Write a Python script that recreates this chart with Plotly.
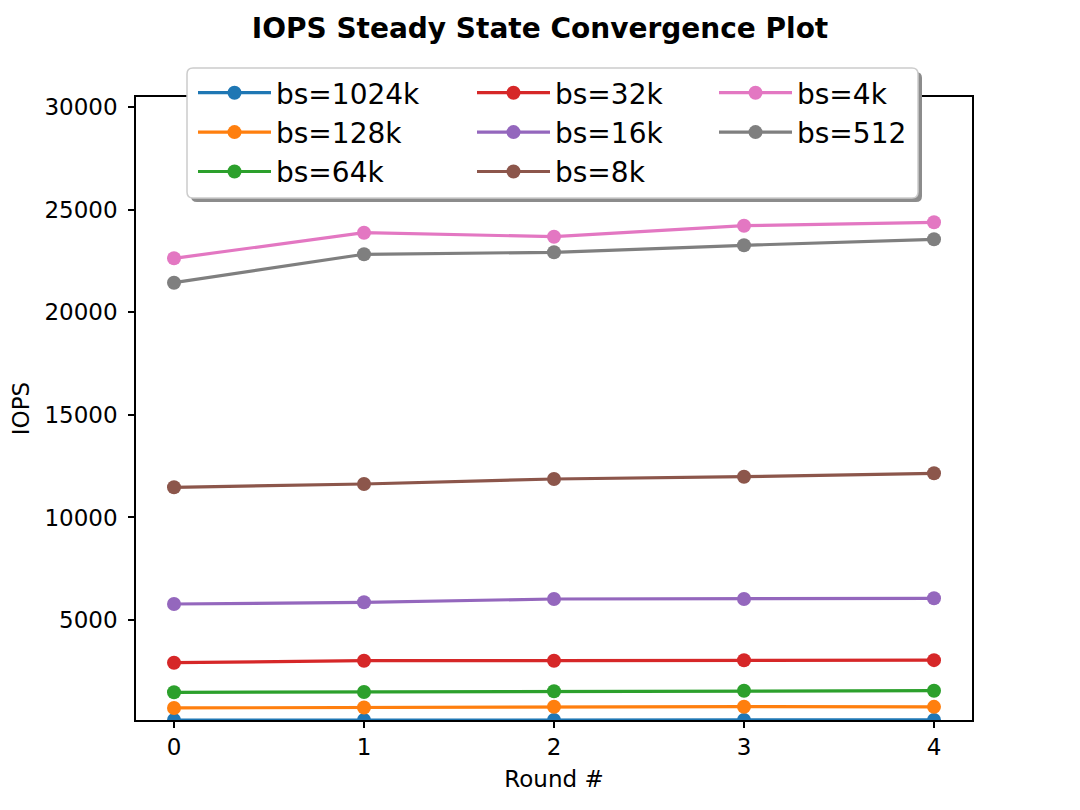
import plotly.graph_objects as go

rounds = [0, 1, 2, 3, 4]
series_names = ["bs=1024k", "bs=128k", "bs=64k", "bs=32k", "bs=16k", "bs=8k", "bs=4k", "bs=512"]
bs_1024k = [127, 128, 130, 130, 129]
bs_128k = [715, 738, 770, 775, 768]
bs_64k = [1477, 1492, 1526, 1555, 1555]
bs_32k = [2920, 3018, 3018, 3040, 3045]
bs_16k = [5781, 5864, 6025, 6025, 6059]
bs_8k = [11470, 11631, 11875, 11987, 12152]
bs_4k = [22633, 23881, 23686, 24222, 24387]
bs_512 = [21443, 22828, 22925, 23266, 23559]
series_values = [bs_1024k, bs_128k, bs_64k, bs_32k, bs_16k, bs_8k, bs_4k, bs_512]
colors = ["#1f77b4", "#ff7f0e", "#2ca02c", "#d62728", "#9467bd", "#8c564b", "#e377c2", "#7f7f7f"]
legend_ids = ["legend", "legend", "legend", "legend2", "legend2", "legend2", "legend3", "legend3"]
y_ticks = [5000, 10000, 15000, 20000, 25000, 30000]
x_ticks = [0, 1, 2, 3, 4]

FONT = "DejaVu Sans"

fig = go.Figure()
for name, vals, col, lg in zip(series_names, series_values, colors, legend_ids):
    fig.add_trace(go.Scatter(
        x=rounds, y=vals, name=name, mode="lines+markers",
        line=dict(color=col, width=3.2),
        marker=dict(color=col, size=14),
        legend=lg,
    ))

def rounded_rect(x0, y0, x1, y1, rx, ry):
    return (f"M{x0+rx},{y0} L{x1-rx},{y0} Q{x1},{y0} {x1},{y0+ry} "
            f"L{x1},{y1-ry} Q{x1},{y1} {x1-rx},{y1} L{x0+rx},{y1} "
            f"Q{x0},{y1} {x0},{y1-ry} L{x0},{y0+ry} Q{x0},{y0} {x0+rx},{y0} Z")

# page has an 8px body margin; figure sized to fit the 1080x810 window
OFF = 8
W, H = 1080 - OFF, 810 - OFF
L, R, T, B = 136 - OFF, 108, 97 - OFF, 90
pw, ph = W - L - R, H - T - B

def px_x(p):  # page pixel -> paper x
    return (p - OFF - L) / pw

def px_y(p):  # page pixel -> paper y
    return (H - B - (p - OFF)) / ph

bx0, bx1, by_top, by_bot = 187, 918, 68, 198
rx, ry = 6 / pw, 6 / ph
shapes = [
    dict(type="path", xref="paper", yref="paper", layer="above",
         path=rounded_rect(px_x(bx0 + 4), px_y(by_bot + 4), px_x(bx1 + 4), px_y(by_top + 4), rx, ry),
         fillcolor="#8c8c8c", line=dict(width=0)),
    dict(type="path", xref="paper", yref="paper", layer="above",
         path=rounded_rect(px_x(bx0), px_y(by_bot), px_x(bx1), px_y(by_top), rx, ry),
         fillcolor="white", line=dict(color="#cccccc", width=1.5)),
]

legend_common = dict(
    orientation="v", bgcolor="rgba(0,0,0,0)", borderwidth=0,
    font=dict(family=FONT, size=28, color="black"),
    xanchor="left", yanchor="top", y=px_y(68), itemwidth=73,
    tracegroupgap=0,
)

fig.update_layout(
    width=W, height=H,
    margin=dict(l=L, r=R, t=T, b=B, autoexpand=False),
    paper_bgcolor="white", plot_bgcolor="white",
    font=dict(family=FONT, size=23, color="black"),
    title=dict(text="<b>IOPS Steady State Convergence Plot</b>",
               x=px_x(540), xanchor="center", xref="paper", y=1 - (28 - OFF) / H, yanchor="middle",
               font=dict(family=FONT, size=28, color="black")),
    xaxis=dict(range=[-0.2, 4.2], tickvals=x_ticks, ticks="outside", ticklen=6, tickwidth=1.5,
               tickcolor="black", showline=True, mirror=True, linecolor="black", linewidth=1.5,
               showgrid=False, zeroline=False, automargin=False,
               title=dict(text="Round #", standoff=12, font=dict(size=23))),
    yaxis=dict(range=[127, 30495], tickvals=y_ticks, tickformat="d", ticks="outside", ticklen=6,
               tickwidth=1.5, tickcolor="black", showline=True, mirror=True, linecolor="black",
               linewidth=1.5, showgrid=False, zeroline=False, ticklabelstandoff=6, automargin=False,
               title=dict(text="IOPS", standoff=8, font=dict(size=23))),
    shapes=shapes,
    legend=dict(legend_common, x=px_x(193)),
    legend2=dict(legend_common, x=px_x(472)),
    legend3=dict(legend_common, x=px_x(714)),
    showlegend=True,
)

fig.write_html("out.html")
